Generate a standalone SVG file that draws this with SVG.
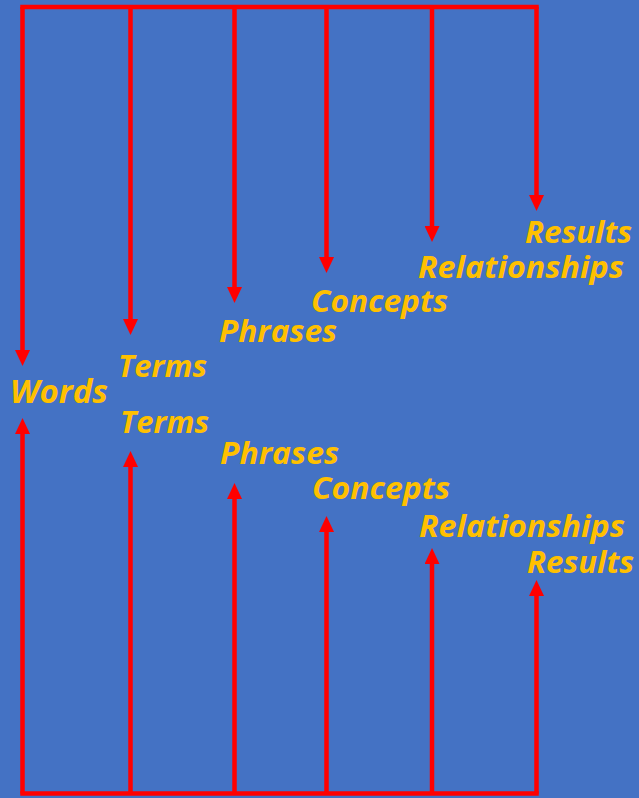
<svg xmlns="http://www.w3.org/2000/svg" width="639" height="798" viewBox="0 0 639 798">
  <style>
    .bg { fill: #4472C4; }
    .wire { fill: none; stroke: #FF0000; stroke-width: 4.5; stroke-linecap: square; }
    .arr { fill: none; stroke: #FF0000; stroke-width: 4.5; marker-end: url(#head); }
    .lbl { font-family: "Open Sans", "Noto Sans", "DejaVu Sans", sans-serif; font-weight: bold; font-style: italic; font-size: 31px; fill: #FFC000; }
    .big { font-size: 33px; }
  </style>
  <defs>
    <marker id="head" markerUnits="userSpaceOnUse" markerWidth="16" markerHeight="15" refX="2" refY="7.5" orient="auto" viewBox="0 0 16 15">
      <path d="M0,0 L16,7.5 L0,15 Z" fill="#FF0000"/>
    </marker>
  </defs>
  <rect class="bg" x="0" y="0" width="639" height="798"/>
  <g id="connectors">
    <path class="wire" d="M22.5,7 H536.5"/>
    <path class="wire" d="M22.5,793.5 H536.5"/>
    <line class="arr" x1="22.5" y1="7" x2="22.5" y2="352"/>
    <line class="arr" x1="130.5" y1="7" x2="130.5" y2="321"/>
    <line class="arr" x1="234.5" y1="7" x2="234.5" y2="289"/>
    <line class="arr" x1="326.5" y1="7" x2="326.5" y2="259"/>
    <line class="arr" x1="432" y1="7" x2="432" y2="228"/>
    <line class="arr" x1="536.5" y1="7" x2="536.5" y2="197"/>
    <line class="arr" x1="22.5" y1="793.5" x2="22.5" y2="432"/>
    <line class="arr" x1="130.5" y1="793.5" x2="130.5" y2="465"/>
    <line class="arr" x1="234.5" y1="793.5" x2="234.5" y2="497"/>
    <line class="arr" x1="326.5" y1="793.5" x2="326.5" y2="530"/>
    <line class="arr" x1="432" y1="793.5" x2="432" y2="562"/>
    <line class="arr" x1="536.5" y1="793.5" x2="536.5" y2="594"/>
  </g>
  <g id="words"><text class="lbl big" x="10" y="403" textLength="98" lengthAdjust="spacingAndGlyphs">Words</text></g>
  <g id="terms-top"><text class="lbl" x="118" y="377" textLength="89" lengthAdjust="spacingAndGlyphs">Terms</text></g>
  <g id="phrases-top"><text class="lbl" x="219" y="342" textLength="118" lengthAdjust="spacingAndGlyphs">Phrases</text></g>
  <g id="concepts-top"><text class="lbl" x="311" y="312" textLength="137" lengthAdjust="spacingAndGlyphs">Concepts</text></g>
  <g id="relationships-top"><text class="lbl" x="418" y="278" textLength="206" lengthAdjust="spacingAndGlyphs">Relationships</text></g>
  <g id="results-top"><text class="lbl" x="525" y="243" textLength="107" lengthAdjust="spacingAndGlyphs">Results</text></g>
  <g id="terms-bottom"><text class="lbl" x="120" y="433" textLength="89" lengthAdjust="spacingAndGlyphs">Terms</text></g>
  <g id="phrases-bottom"><text class="lbl" x="220" y="464" textLength="119" lengthAdjust="spacingAndGlyphs">Phrases</text></g>
  <g id="concepts-bottom"><text class="lbl" x="312" y="499" textLength="138" lengthAdjust="spacingAndGlyphs">Concepts</text></g>
  <g id="relationships-bottom"><text class="lbl" x="419" y="537" textLength="206" lengthAdjust="spacingAndGlyphs">Relationships</text></g>
  <g id="results-bottom"><text class="lbl" x="527" y="573" textLength="107" lengthAdjust="spacingAndGlyphs">Results</text></g>
</svg>
